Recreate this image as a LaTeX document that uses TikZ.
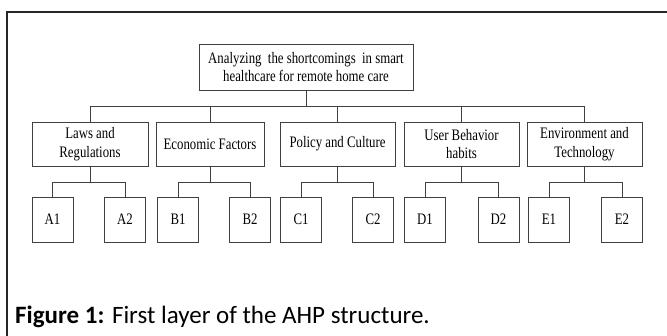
\documentclass[tikz,border=0pt]{standalone}
\usepackage{fontspec}
\setmainfont{Liberation Serif}[FakeStretch=0.8]
\newfontfamily\capfont{Carlito}
\begin{document}
\begin{tikzpicture}[x=1pt,y=-1pt,
  box/.style={draw=black!75, line width=0.9pt, inner sep=0pt, align=center,
    font=\fontsize{16}{18.5}\selectfont},
  lvltwo/.style={box, minimum height=44pt},
  leaf/.style={box, minimum width=41pt, minimum height=45pt},
  conn/.style={draw=black!75, line width=0.9pt}]
\useasboundingbox (0,0) rectangle (667,336);
\fill[white] (0,0) rectangle (667,336);
% frame
\draw[line width=1.6pt, black!85] (667,12) -- (7,12) -- (7,336);
% top
\node[box, minimum width=214pt, minimum height=46pt] (top) at (306,67)
  {Analyzing\ \ the shortcomings\ \ in smart\\healthcare for remote home care};
% level 2
\node[lvltwo, minimum width=116pt] (L) at (90,144) {Laws and\\Regulations};
\node[lvltwo, minimum width=108pt] (E) at (210,144) {Economic Factors};
\node[lvltwo, minimum width=115pt] (P) at (337.5,144) {Policy and Culture};
\node[lvltwo, minimum width=115pt] (U) at (461.5,144) {User Behavior\\habits};
\node[lvltwo, minimum width=115pt] (V) at (584.5,144) {Environment and\\Technology};
% leaves
\node[leaf] (A1) at (52.5,219.5) {A1};
\node[leaf] (A2) at (125,219.5) {A2};
\node[leaf] (B1) at (178,219.5) {B1};
\node[leaf] (B2) at (250,219.5) {B2};
\node[leaf] (C1) at (301,219.5) {C1};
\node[leaf] (C2) at (373,219.5) {C2};
\node[leaf] (D1) at (425,219.5) {D1};
\node[leaf] (D2) at (498.5,219.5) {D2};
\node[leaf] (E1) at (549,219.5) {E1};
\node[leaf] (E2) at (622,219.5) {E2};
% connector levels
\coordinate (bar) at (0,106);
\coordinate (sub) at (0,182);
\draw[conn] (top.south) -- (top.south |- bar);
\draw[conn] (L.north |- bar) -- (V.north |- bar);
\foreach \n in {L,E,P,U,V} \draw[conn] (\n.north |- bar) -- (\n.north);
\foreach \p/\a/\b in {L/A1/A2,E/B1/B2,P/C1/C2,U/D1/D2,V/E1/E2}{
  \draw[conn] (\p.south) -- (\p.south |- sub);
  \draw[conn] (\a.north) -- (\a.north |- sub) -- (\b.north |- sub) -- (\b.north);
}
% caption
\node[anchor=base west, inner sep=0pt, font=\capfont\fontsize{25}{30}\selectfont] (cap) at (15,324)
  {\textbf{Figure 1:} First layer of the AHP structure.};
\end{tikzpicture}
\end{document}
